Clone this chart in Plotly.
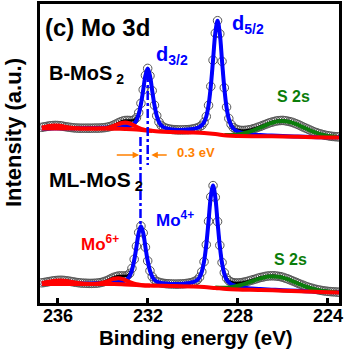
import plotly.graph_objects as go

# ---------------- data ----------------
energy = [236.7, 236.6, 236.5, 236.4, 236.3, 236.2, 236.1, 236.0, 235.9, 235.8,
          235.7, 235.6, 235.5, 235.4, 235.3, 235.2, 235.1, 235.0, 234.9, 234.8,
          234.7, 234.6, 234.5, 234.4, 234.3, 234.2, 234.1, 234.0, 233.9, 233.8,
          233.7, 233.6, 233.5, 233.4, 233.3, 233.2, 233.1, 233.0, 232.9, 232.8,
          232.7, 232.6, 232.5, 232.4, 232.3, 232.2, 232.1, 232.0, 231.9, 231.8,
          231.7, 231.6, 231.5, 231.4, 231.3, 231.2, 231.1, 231.0, 230.9, 230.8,
          230.7, 230.6, 230.5, 230.4, 230.3, 230.2, 230.1, 230.0, 229.9, 229.8,
          229.7, 229.6, 229.5, 229.4, 229.3, 229.2, 229.1, 229.0, 228.9, 228.8,
          228.7, 228.6, 228.5, 228.4, 228.3, 228.2, 228.1, 228.0, 227.9, 227.8,
          227.7, 227.6, 227.5, 227.4, 227.3, 227.2, 227.1, 227.0, 226.9, 226.8,
          226.7, 226.6, 226.5, 226.4, 226.3, 226.2, 226.1, 226.0, 225.9, 225.8,
          225.7, 225.6, 225.5, 225.4, 225.3, 225.2, 225.1, 225.0, 224.9, 224.8,
          224.7, 224.6, 224.5, 224.4, 224.3, 224.2, 224.1, 224.0, 223.9, 223.8,
          223.7, 223.6, 223.5]

b_counts = [175.7, 176.1, 176.5, 177.0, 177.3, 177.5, 177.6, 177.5, 177.3, 177.0,
            176.5, 176.1, 175.8, 175.5, 175.2, 175.0, 174.9, 174.8, 174.8, 174.8,
            174.8, 174.8, 174.8, 174.9, 174.9, 174.9, 175.0, 175.2, 175.4, 175.8,
            176.3, 177.0, 178.0, 179.0, 180.2, 181.2, 182.0, 182.5, 182.6, 182.5,
            182.4, 183.0, 185.2, 190.3, 199.7, 213.3, 227.6, 234.6, 227.2, 212.3,
            197.8, 187.3, 181.0, 177.6, 175.9, 174.9, 174.3, 173.8, 173.5, 173.3,
            173.2, 173.1, 173.1, 173.2, 173.3, 173.4, 173.6, 174.0, 174.5, 175.1,
            176.1, 177.7, 180.7, 186.5, 197.7, 216.6, 242.8, 269.8, 282.3, 269.2,
            241.6, 215.2, 195.9, 184.5, 178.6, 175.5, 174.0, 173.1, 172.7, 172.5,
            172.6, 172.8, 173.2, 173.6, 174.3, 175.0, 175.8, 176.6, 177.5, 178.4,
            179.3, 180.1, 180.8, 181.4, 182.0, 182.3, 182.5, 182.6, 182.3, 181.9,
            181.4, 180.8, 180.0, 179.1, 178.2, 177.1, 176.0, 175.0, 174.0, 173.0,
            172.0, 171.0, 170.3, 169.5, 168.9, 168.2, 167.7, 167.3, 166.9, 166.6,
            166.4, 166.2, 166.1]

ml_counts = [20.2, 20.5, 20.9, 21.3, 21.7, 22.1, 22.4, 22.6, 22.7, 22.7,
             22.5, 22.2, 21.9, 21.5, 21.1, 20.7, 20.4, 20.1, 19.9, 19.8,
             19.7, 19.6, 19.6, 19.7, 19.8, 20.0, 20.4, 20.9, 21.6, 22.5,
             23.6, 24.7, 25.7, 26.4, 27.0, 27.1, 27.0, 27.0, 27.5, 29.6,
             34.6, 43.7, 56.8, 70.5, 76.9, 70.1, 55.8, 42.1, 32.3, 26.4,
             23.2, 21.6, 20.7, 20.1, 19.7, 19.4, 19.2, 19.1, 19.0, 18.9,
             18.9, 19.0, 19.1, 19.2, 19.5, 19.8, 20.2, 20.8, 21.7, 23.1,
             25.8, 31.2, 41.3, 58.3, 81.7, 106.1, 117.4, 105.7, 81.4, 57.7,
             40.5, 30.3, 24.9, 22.3, 21.0, 20.3, 20.1, 20.0, 20.2, 20.5,
             21.0, 21.5, 22.1, 22.8, 23.4, 24.1, 24.8, 25.5, 25.9, 26.5,
             26.9, 27.1, 27.2, 27.2, 27.0, 26.7, 26.3, 25.7, 24.9, 24.2,
             23.3, 22.4, 21.4, 20.5, 19.5, 18.6, 17.7, 16.8, 16.0, 15.3,
             14.7, 14.0, 13.5, 13.0, 12.6, 12.2, 11.9, 11.6, 11.4, 11.2,
             11.1, 10.9, 10.8]

# Mo4+ doublet fits (incl. background)
mo4_energy_b = [236.7, 235.5, 234.5, 234.0, 233.6, 233.5, 233.4, 233.3, 233.2, 233.1,
                233.0, 232.9, 232.8, 232.7, 232.6, 232.5, 232.4, 232.3, 232.2, 232.1,
                232.0, 231.9, 231.8, 231.7, 231.6, 231.5, 231.4, 231.3, 231.2, 231.1,
                231.0, 230.8, 230.6, 230.4, 230.2, 230.0, 229.9, 229.8, 229.7, 229.6,
                229.5, 229.4, 229.3, 229.2, 229.1, 229.0, 228.9, 228.8, 228.7, 228.6,
                228.5, 228.4, 228.3, 228.2, 228.1, 228.0, 227.9, 227.8, 227.7, 227.6,
                227.4, 227.2, 227.0, 226.5, 226.0, 225.5, 225.0, 224.0, 223.5]
mo4_fit_b = [174.6, 174.7, 174.9, 175.2, 175.3, 175.4, 175.4, 175.5, 175.7, 175.9,
             176.2, 176.5, 177.0, 177.8, 179.4, 182.6, 188.7, 198.8, 212.9, 227.5,
             234.4, 227.2, 212.3, 197.8, 187.3, 181.0, 177.6, 175.9, 174.9, 174.3,
             173.8, 173.3, 173.1, 173.2, 173.4, 174.0, 174.5, 175.1, 176.1, 177.7,
             180.7, 186.5, 197.7, 216.6, 242.8, 269.8, 282.3, 269.2, 241.6, 214.9,
             195.4, 183.9, 177.9, 174.5, 172.7, 171.5, 170.7, 170.1, 169.6, 169.2,
             168.6, 168.2, 167.9, 167.4, 167.0, 166.6, 166.3, 165.7, 165.7]

mo4_energy_ml = [236.7, 235.5, 234.5, 234.0, 233.8, 233.6, 233.5, 233.4, 233.3, 233.2,
                 233.1, 233.0, 232.9, 232.8, 232.7, 232.6, 232.5, 232.4, 232.3, 232.2,
                 232.1, 232.0, 231.9, 231.8, 231.7, 231.6, 231.5, 231.4, 231.3, 231.2,
                 231.1, 231.0, 230.8, 230.6, 230.4, 230.2, 230.1, 230.0, 229.9, 229.8,
                 229.7, 229.6, 229.5, 229.4, 229.3, 229.2, 229.1, 229.0, 228.9, 228.8,
                 228.7, 228.6, 228.5, 228.4, 228.3, 228.2, 228.1, 228.0, 227.8, 227.6,
                 227.4, 227.0, 226.5, 226.0, 225.0, 224.0, 223.5]
mo4_fit_ml = [19.2, 19.3, 19.6, 19.8, 20.0, 20.3, 20.5, 20.6, 20.9, 21.2,
              21.7, 22.5, 24.0, 27.1, 32.9, 42.6, 56.1, 70.1, 76.7, 70.0,
              55.8, 42.1, 32.3, 26.4, 23.2, 21.6, 20.7, 20.1, 19.7, 19.4,
              19.2, 19.1, 18.9, 19.0, 19.2, 19.8, 20.2, 20.8, 21.7, 23.1,
              25.8, 31.2, 41.3, 58.3, 81.7, 106.1, 117.4, 105.7, 80.9, 57.0,
              39.6, 29.2, 23.5, 20.6, 18.9, 17.8, 17.0, 16.4, 15.5, 14.9,
              14.5, 13.9, 13.3, 12.8, 11.8, 10.9, 10.7]

# backgrounds
bg_energy = [236.7, 234.0, 233.5, 233.0, 232.5, 232.0, 231.5, 231.0, 230.0, 229.5,
             229.0, 228.5, 228.0, 227.0, 226.0, 225.0, 224.0, 223.5]
bg_b = [174.5, 174.5, 174.3, 174.0, 173.5, 172.5, 171.5, 171.0, 170.5, 170.0,
        169.0, 167.5, 167.0, 166.8, 166.5, 166.0, 165.5, 165.5]
bg_ml = [19.0, 19.0, 19.0, 18.5, 18.0, 17.5, 17.2, 17.0, 16.5, 16.0,
         15.0, 14.0, 13.5, 13.0, 12.3, 11.5, 10.7, 10.5]

# Mo6+ components (incl. background)
mo6_energy_b = [236.7, 236.5, 236.3, 236.1, 235.9, 235.7, 235.5, 235.3, 235.1, 234.8,
                234.0, 233.8, 233.6, 233.4, 233.2, 233.0, 232.8, 232.6, 232.4, 232.2,
                232.0, 231.8]
mo6_fit_b = [175.6, 176.4, 177.2, 177.5, 177.2, 176.4, 175.6, 175.0, 174.7, 174.5,
             174.7, 175.1, 176.3, 178.1, 179.8, 180.5, 179.5, 177.4, 175.2, 173.6,
             172.7, 172.1]
mo6_energy_ml = [236.7, 236.5, 236.3, 236.1, 235.9, 235.7, 235.5, 235.3, 235.1, 234.9,
                 234.7, 234.5, 234.3, 234.1, 233.9, 233.7, 233.5, 233.3, 233.1, 232.9,
                 232.7, 232.5, 232.3, 232.1, 231.9]
mo6_fit_ml = [20.0, 20.8, 21.6, 22.3, 22.5, 22.3, 21.6, 20.8, 20.0, 19.5,
              19.2, 19.1, 19.2, 19.7, 20.8, 22.5, 24.3, 24.8, 23.9, 21.9,
              20.0, 18.7, 18.0, 17.6, 17.5]

# S 2s components (incl. background)
s2s_energy_b = [228.6, 228.4, 228.2, 228.0, 227.8, 227.6, 227.4, 227.2, 227.0, 226.8,
                226.6, 226.4, 226.2, 226.0, 225.8, 225.6, 225.4, 225.2, 225.0, 224.8,
                224.6, 224.4, 224.2, 224.0, 223.8, 223.6]
s2s_fit_b = [168.1, 168.0, 168.2, 168.6, 169.4, 170.5, 171.9, 173.6, 175.5, 177.4,
             179.3, 180.7, 181.7, 182.0, 181.5, 180.4, 178.8, 176.8, 174.7, 172.7,
             170.8, 169.3, 168.0, 167.1, 166.5, 166.1]
s2s_energy_ml = [229.0, 228.8, 228.6, 228.4, 228.2, 228.0, 227.8, 227.6, 227.4, 227.2,
                 227.0, 226.8, 226.6, 226.4, 226.2, 226.0, 225.8, 225.6, 225.4, 225.2,
                 225.0, 224.8, 224.6, 224.4, 224.2, 224.0, 223.8, 223.6]
s2s_fit_ml = [15.4, 15.3, 15.3, 15.6, 16.3, 17.2, 18.4, 19.9, 21.5, 23.1,
              24.6, 25.8, 26.4, 26.6, 26.2, 25.2, 23.8, 22.0, 20.1, 18.3,
              16.5, 15.0, 13.8, 12.8, 12.0, 11.4, 11.0, 10.8]

# Mo 3d3/2 peak positions (eV)
d32_peak_b = 232.0
d32_peak_ml = 232.32

x_ticks = [236, 232, 228, 224]

assert len(energy) == len(b_counts) == len(ml_counts)
assert len(mo4_energy_b) == len(mo4_fit_b)
assert len(mo4_energy_ml) == len(mo4_fit_ml)
assert len(mo6_energy_b) == len(mo6_fit_b)
assert len(mo6_energy_ml) == len(mo6_fit_ml)
assert len(s2s_energy_b) == len(s2s_fit_b)
assert len(s2s_energy_ml) == len(s2s_fit_ml)

# ---------------- styling ----------------
FONT = "Liberation Sans, Arial, sans-serif"
BLUE = "#0000ff"
RED = "#ff0000"
GREEN = "#0b7d0b"
ORANGE = "#ff8000"

fig = go.Figure()


def add_spectrum(counts, mo4x, mo4y, s2x, s2y, bg, mo6x, mo6y):
    fig.add_trace(go.Scatter(x=energy, y=counts, mode="markers",
                             marker=dict(symbol="circle-open", size=8.5,
                                         color="#555555", line=dict(width=1)),
                             hoverinfo="skip"))
    fig.add_trace(go.Scatter(x=energy, y=counts, mode="lines",
                             line=dict(color="black", width=2.5, shape="spline"),
                             hoverinfo="skip"))
    fig.add_trace(go.Scatter(x=mo4x, y=mo4y, mode="lines",
                             line=dict(color=BLUE, width=4, shape="spline"),
                             hoverinfo="skip"))
    fig.add_trace(go.Scatter(x=s2x, y=s2y, mode="lines",
                             line=dict(color=GREEN, width=4, shape="spline"),
                             hoverinfo="skip"))
    fig.add_trace(go.Scatter(x=bg_energy, y=bg, mode="lines",
                             line=dict(color=RED, width=4, shape="spline"),
                             hoverinfo="skip"))
    fig.add_trace(go.Scatter(x=mo6x, y=mo6y, mode="lines",
                             line=dict(color=RED, width=4, shape="spline"),
                             hoverinfo="skip"))


add_spectrum(b_counts, mo4_energy_b, mo4_fit_b, s2s_energy_b, s2s_fit_b,
             bg_b, mo6_energy_b, mo6_fit_b)
add_spectrum(ml_counts, mo4_energy_ml, mo4_fit_ml, s2s_energy_ml, s2s_fit_ml,
             bg_ml, mo6_energy_ml, mo6_fit_ml)

# dash-dot guide lines at the d3/2 peaks
fig.add_trace(go.Scatter(x=[d32_peak_b, d32_peak_b], y=[230, 138], mode="lines",
                         line=dict(color=BLUE, width=2.5, dash="dashdot"),
                         hoverinfo="skip"))
fig.add_trace(go.Scatter(x=[d32_peak_ml, d32_peak_ml], y=[166, 79], mode="lines",
                         line=dict(color=BLUE, width=2.5, dash="dashdot"),
                         hoverinfo="skip"))


def label(text, x, y, size, color="black", xanchor="left", **kw):
    fig.add_annotation(text=text, x=x, y=y, xref="x", yref="y", showarrow=False,
                       xanchor=xanchor, yanchor="middle",
                       font=dict(family=FONT, size=size, color=color), **kw)


label("<b>(c) Mo 3d</b>", 236.66, 276, 24)
label("<b>B-MoS<sub> 2</sub></b>", 236.45, 229, 20)
label("<b>ML-MoS<sub> 2</sub></b>", 236.45, 122, 21)
label("<b>d<sub>3/2</sub></b>", 231.7, 248, 20, BLUE)
label("<b>d<sub>5/2</sub></b>", 228.36, 279, 20, BLUE)
label("<b>S 2s</b>", 226.33, 207, 16, GREEN)
label("<b>S 2s</b>", 226.47, 44, 16, GREEN)
label("<b>Mo<sup>4+</sup></b>", 231.7, 84, 17, BLUE)
label("<b>Mo<sup>6+</sup></b>", 235.06, 60, 17, RED)
label("<b>0.3 eV</b>", 230.8, 151, 13, ORANGE)

# 0.3 eV shift arrows
for tail, head in [(233.44, 232.38), (231.09, 231.84)]:
    fig.add_annotation(x=head, y=148, ax=tail, ay=148, xref="x", yref="y",
                       axref="x", ayref="y", text="", showarrow=True,
                       arrowhead=2, arrowsize=1, arrowwidth=1.3,
                       arrowcolor=ORANGE)

# x tick labels
for t in x_ticks:
    fig.add_annotation(text=f"<b>{t}</b>", x=t, y=-0.042, xref="x", yref="paper",
                       showarrow=False, xanchor="center", yanchor="middle",
                       font=dict(family=FONT, size=18, color="black"))

# axis titles
fig.add_annotation(text="<b>Binding energy (eV)</b>", x=229.84, y=-0.117,
                   xref="x", yref="paper", showarrow=False, xanchor="center",
                   yanchor="middle", font=dict(family=FONT, size=20.5, color="black"))
fig.add_annotation(text="<b>Intensity (a.u.)</b>", x=-0.09, y=170,
                   xref="paper", yref="y", showarrow=False, textangle=-90,
                   xanchor="center", yanchor="middle",
                   font=dict(family=FONT, size=22, color="black"))

fig.update_layout(
    width=357, height=357,
    margin=dict(l=40, r=18, t=4, b=54, autoexpand=False),
    paper_bgcolor="white", plot_bgcolor="white",
    showlegend=False,
    xaxis=dict(range=[236.78, 223.51], tickvals=x_ticks, showticklabels=False,
               ticks="inside", ticklen=5, tickwidth=2.5, tickcolor="black",
               showline=True, linewidth=3, linecolor="black", mirror=True,
               showgrid=False, zeroline=False, automargin=False),
    yaxis=dict(range=[0, 299], showticklabels=False, ticks="",
               showline=True, linewidth=3, linecolor="black", mirror=True,
               showgrid=False, zeroline=False, automargin=False),
)

fig.write_html("out.html",
               config={"displayModeBar": False},
               post_script="document.body.style.margin='0';"
                           "document.body.style.overflow='hidden';")
